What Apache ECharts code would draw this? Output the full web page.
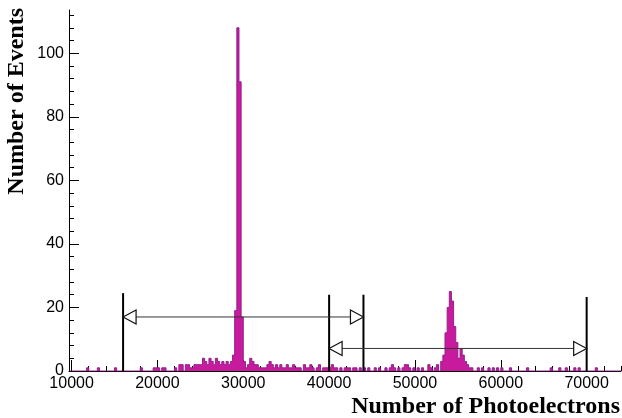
<!DOCTYPE html>
<html><head><meta charset="utf-8">
<script src="https://cdn.jsdelivr.net/npm/echarts@6/dist/echarts.min.js"></script>
<style>html,body{margin:0;padding:0;background:#fff}#c{width:622px;height:418px}</style>
</head><body><div id="c"></div>
<script>
// ---- data ----
const binWidth = 250;
const histStart = 9750;
const histEnd = 74000;
const binLowEdges = [
  11750,13000,15000,18000,19500,19750,20000,20500,20750,22000,22500,22750,23250,23500,23750,
  24000,24250,24500,24750,25000,25250,25500,25750,26000,26250,26500,26750,27000,27250,27500,
  27750,28000,28250,28500,28750,29000,29250,29500,29750,30000,30250,30500,30750,31000,31250,
  31500,31750,32000,32250,32500,32750,33000,33250,33500,33750,34000,34250,34500,34750,35000,
  35250,35500,35750,36000,36250,36500,37000,37250,37500,37750,38000,38500,38750,39250,39500,
  39750,40000,40250,40500,40750,41250,41750,42000,42250,42750,43000,43500,44000,44500,45250,
  45750,46500,47000,47250,47500,48000,48500,48750,49000,49250,49750,50250,50750,51500,51750,
  52250,52500,53000,53250,53500,53750,54000,54250,54500,54750,55000,55250,55500,55750,56000,
  56250,56500,57250,57750,58500,59000,59500,60000,61000,63000,65750,66750,67500,68500,69000,71000
];
const binCounts = [
  1,1,1,1,1,1,1,1,1,1,2,2,2,2,1,
  1,2,2,2,2,4,3,2,4,3,2,4,3,2,3,
  2,3,2,3,5,19,108,91,17,3,1,2,4,3,2,
  2,1,1,1,1,2,3,2,1,2,1,2,1,1,2,
  1,1,2,1,1,1,2,1,1,2,1,1,2,1,1,
  1,1,2,1,1,1,1,1,1,1,1,1,1,1,1,
  1,1,1,2,1,1,1,2,2,1,1,1,1,2,1,
  1,2,3,5,12,20,25,22,14,9,4,7,5,3,2,
  1,1,1,1,1,1,1,1,1,1,1,1,1,1,1,1
];
const xTickLabels = [10000, 20000, 30000, 40000, 50000, 60000, 70000];
const yTickLabels = [0, 20, 40, 60, 80, 100];
const cutPositions = [16000, 40000, 44000, 70000];
const cutHeights = [24.5, 24, 24, 23.3];
const arrowFrom = [16000, 40000];
const arrowTo = [44000, 70000];
const arrowLevel = [17, 7.1];
const xTitle = 'Number of Photoelectrons';
const yTitle = 'Number of Events';

// ---- build ----
const countByBin = new Map(binLowEdges.map((e, i) => [e, binCounts[i]]));
const stepData = [];
for (let e = histStart; e < histEnd; e += binWidth) stepData.push([e, countByBin.get(e) || 0]);
stepData.push([histEnd, stepData[stepData.length - 1][1]]);

const xMin = 9700, xMax = 74000, yMin = 0, yMax = 113.6;
const xMinor = [];
for (let v = 10000; v <= xMax; v += 2000) if (v % 10000 !== 0) xMinor.push(v);
const yMinor = [];
for (let v = 4; v <= yMax; v += 4) if (v % 20 !== 0) yMinor.push(v);

const labelFont = { fontFamily: 'Liberation Sans', fontSize: 16, color: '#000' };

const chart = echarts.init(document.getElementById('c'), null, { renderer: 'canvas' });
chart.setOption({
  animation: false,
  backgroundColor: '#fff',
  grid: { left: 69, right: 1, top: 10, bottom: 47, containLabel: false, outerBoundsMode: 'none' },
  xAxis: [
    { type: 'value', min: xMin, max: xMax, position: 'bottom',
      axisLine: { show: true, lineStyle: { color: '#000', width: 1 } },
      axisTick: { show: true, inside: true, length: 11, customValues: xTickLabels, lineStyle: { color: '#000' } },
      axisLabel: Object.assign({ customValues: xTickLabels, margin: 5, formatter: v => String(v) }, labelFont),
      splitLine: { show: false } },
    { type: 'value', min: xMin, max: xMax, position: 'bottom',
      axisLine: { show: false },
      axisTick: { show: true, inside: true, length: 5, customValues: xMinor, lineStyle: { color: '#000' } },
      axisLabel: { show: false }, splitLine: { show: false } }
  ],
  yAxis: [
    { type: 'value', min: yMin, max: yMax, position: 'left',
      axisLine: { show: true, lineStyle: { color: '#000', width: 1 } },
      axisTick: { show: true, inside: true, length: 10, customValues: yTickLabels, lineStyle: { color: '#000' } },
      axisLabel: Object.assign({ customValues: yTickLabels, margin: 5, formatter: v => String(v) }, labelFont),
      splitLine: { show: false } },
    { type: 'value', min: yMin, max: yMax, position: 'left',
      axisLine: { show: false },
      axisTick: { show: true, inside: true, length: 5, customValues: yMinor, lineStyle: { color: '#000' } },
      axisLabel: { show: false }, splitLine: { show: false } }
  ],
  series: [
    { type: 'line', step: 'end', data: stepData, symbol: 'none', xAxisIndex: 0, yAxisIndex: 0,
      lineStyle: { color: '#93208f', width: 1 },
      areaStyle: { color: '#c81a9c', opacity: 1, origin: 'start' }, z: 2 },
    { type: 'custom', coordinateSystem: 'cartesian2d', xAxisIndex: 0, yAxisIndex: 0, z: 4,
      data: cutPositions.map((x, i) => [x, cutHeights[i]]),
      renderItem: (params, api) => {
        const a = api.coord([api.value(0), 0]);
        const b = api.coord([api.value(0), api.value(1)]);
        return { type: 'line', shape: { x1: a[0], y1: a[1], x2: b[0], y2: b[1] },
          style: { stroke: '#000', lineWidth: 2 } };
      } },
    { type: 'custom', coordinateSystem: 'cartesian2d', xAxisIndex: 0, yAxisIndex: 0, z: 5,
      data: arrowFrom.map((f, i) => [f, arrowTo[i], arrowLevel[i]]),
      renderItem: (params, api) => {
        const a = api.coord([api.value(0), api.value(2)]);
        const b = api.coord([api.value(1), api.value(2)]);
        const L = 13, W = 7;
        const hs = { fill: '#fff', stroke: '#111', lineWidth: 1.2 };
        return { type: 'group', children: [
          { type: 'line', shape: { x1: a[0], y1: a[1], x2: b[0], y2: b[1] }, style: { stroke: '#333', lineWidth: 1 } },
          { type: 'polygon', shape: { points: [[a[0], a[1]], [a[0] + L, a[1] - W], [a[0] + L, a[1] + W]] }, style: hs },
          { type: 'polygon', shape: { points: [[b[0], b[1]], [b[0] - L, b[1] - W], [b[0] - L, b[1] + W]] }, style: hs }
        ] };
      } }
  ],
  graphic: [
    { type: 'text', x: 620, y: 407, style: { text: xTitle, font: 'bold 24px "Liberation Serif"', fill: '#000', textAlign: 'right', textVerticalAlign: 'middle' } },
    { type: 'text', x: 17, y: 8, rotation: Math.PI / 2, style: { text: yTitle, font: 'bold 24px "Liberation Serif"', fill: '#000', textAlign: 'right', textVerticalAlign: 'middle' } }
  ]
});
</script>
</body></html>
